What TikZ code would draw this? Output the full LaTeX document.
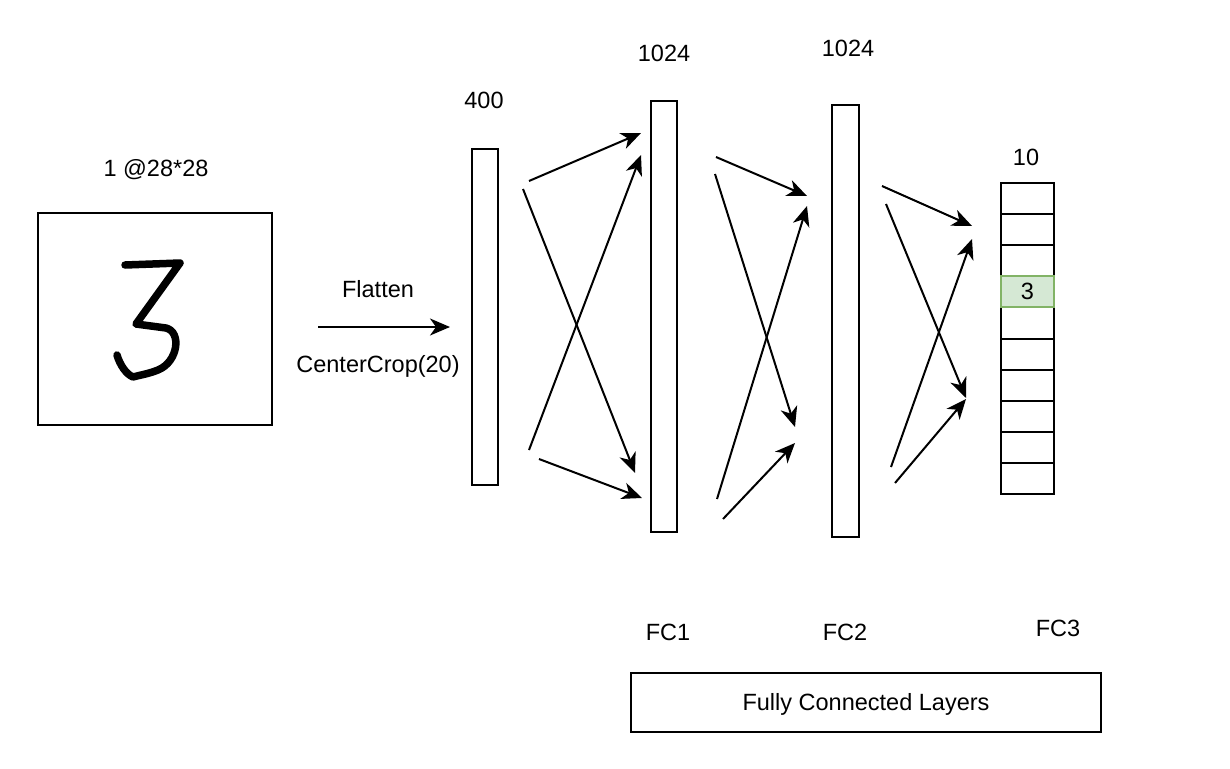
\documentclass[tikz,border=0pt]{standalone}
\usepackage{fontspec}
\setmainfont{Liberation Sans}
\usetikzlibrary{arrows.meta}
\definecolor{cellgreen}{HTML}{D5E8D4}
\definecolor{cellgreenline}{HTML}{82B366}
\begin{document}
\begin{tikzpicture}[x=1pt,y=-1pt,
  every node/.style={font=\fontsize{23.5}{28}\selectfont, inner sep=0pt},
  layerbox/.style={draw=black, line width=2pt, fill=white, minimum width=#1},
  cellbox/.style={draw=black, line width=2pt, fill=white, minimum width=53pt, minimum height=31.1pt},
  conn/.style={line width=2pt, -{Stealth[length=20pt,width=17pt,inset=6pt]}}
]
\useasboundingbox (0,0) rectangle (1230,768);

% input image
\node[draw=black, line width=2pt, minimum width=234pt, minimum height=212pt] (img) at (155,319) {};
\node (imglabel) at (156,170) {1 @28*28};
\draw[line width=7.5pt, line cap=round, line join=round]
  (125,265) -- (180,263) -- (136,324) -- (166,328)
  .. controls (182,332) and (178,362) .. (158,370)
  .. controls (148,374) and (140,375) .. (133,377)
  .. controls (126,374) and (120,365) .. (117,355);

% flatten arrow
\coordinate (fa) at (318,327);
\coordinate (fb) at (450,327);
\draw[conn] (fa) -- (fb);
\node (flat) at (378,289) {Flatten};
\node (crop) at (378,366) {CenterCrop(20)};

% layers
\node[layerbox=26pt, minimum height=336pt] (l400) at (485,317) {};
\node (l400lab) at (484,100) {400};
\node[layerbox=26pt, minimum height=431pt] (fc1) at (664,316.5) {};
\node (fc1lab) at (664,53) {1024};
\node[layerbox=27pt, minimum height=432pt] (fc2) at (845.5,321) {};
\node (fc2lab) at (848,48) {1024};

% output cells
\foreach \i in {0,...,9} {
  \node[cellbox] (c\i) at (1027.5,{183+31.1*(\i+0.5)}) {};
}
\node[cellbox, fill=cellgreen, draw=cellgreenline] (c3) at (1027.5,{183+31.1*3.5}) {3};
\node (fc3top) at (1026,157) {10};

% bottom labels
\node (n1) at (668,632) {FC1};
\node (n2) at (845,632) {FC2};
\node (n3) at (1058,628) {FC3};
\node[draw=black, line width=2pt, minimum width=470pt, minimum height=59pt] (fcl) at (866,702.5) {};
\node (fcltext) at (866,704) {Fully Connected Layers};

% arrows set 1
\coordinate (a1s) at (529,181); \coordinate (a1e) at (641,133);
\coordinate (b1s) at (523,189); \coordinate (b1e) at (635,473);
\coordinate (c1s) at (529,450); \coordinate (c1e) at (641,155);
\coordinate (d1s) at (539,459); \coordinate (d1e) at (642,498);
\draw[conn] (a1s) -- (a1e);
\draw[conn] (b1s) -- (b1e);
\draw[conn] (c1s) -- (c1e);
\draw[conn] (d1s) -- (d1e);

% arrows set 2
\coordinate (a2s) at (716,157); \coordinate (a2e) at (807,196);
\coordinate (b2s) at (715,174); \coordinate (b2e) at (795,427);
\coordinate (c2s) at (717,499); \coordinate (c2e) at (807,206);
\coordinate (d2s) at (723,519); \coordinate (d2e) at (795,443);
\draw[conn] (a2s) -- (a2e);
\draw[conn] (b2s) -- (b2e);
\draw[conn] (c2s) -- (c2e);
\draw[conn] (d2s) -- (d2e);

% arrows set 3
\coordinate (a3s) at (882,186); \coordinate (a3e) at (972,226);
\coordinate (b3s) at (886,204); \coordinate (b3e) at (966,398);
\coordinate (c3s) at (891,467); \coordinate (c3e) at (972,239);
\coordinate (d3s) at (895,483); \coordinate (d3e) at (966,399);
\draw[conn] (a3s) -- (a3e);
\draw[conn] (b3s) -- (b3e);
\draw[conn] (c3s) -- (c3e);
\draw[conn] (d3s) -- (d3e);
\end{tikzpicture}
\end{document}
